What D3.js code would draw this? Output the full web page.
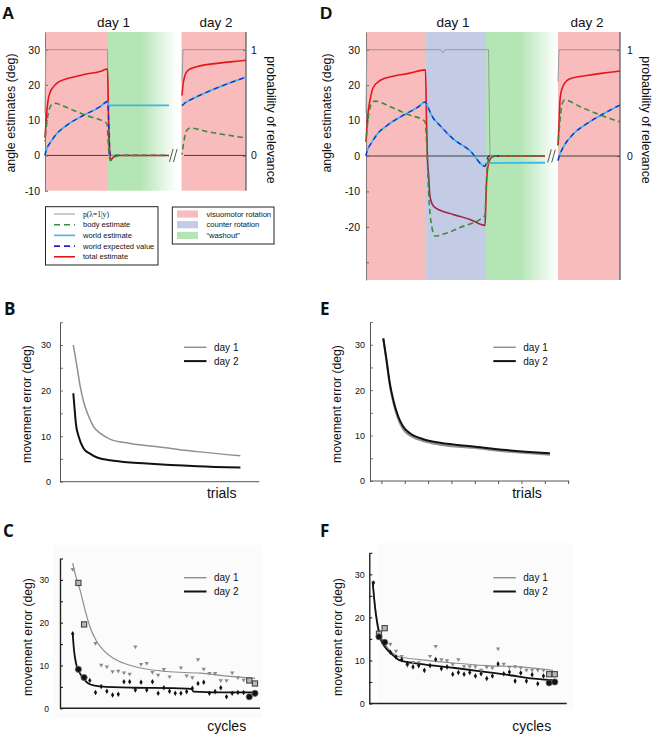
<!DOCTYPE html>
<html><head><meta charset="utf-8">
<script src="https://cdn.jsdelivr.net/npm/d3@7/dist/d3.min.js"></script>
<style>
html,body{margin:0;padding:0;background:#fff;}
svg{display:block;}
text{font-family:"Liberation Sans",Arial,Helvetica,sans-serif;fill:#111;}
</style></head><body>
<svg id="fig" width="655" height="738"></svg>
<script>
// ================= DATA =================
const dayLabels=["day 1","day 2"];
const phaseLabels=["visuomotor rotation","counter rotation","\u201cwashout\u201d"];
const seriesLabels=["p(\u03bb=1|y)","body estimate","world estimate","world expected value","total estimate"];
const angleTicksA=[-10,0,10,20,30];
const angleTicksD=[-30,-20,-10,0,10,20,30];
const probTicks=[0,1];
const errTicks=[0,5,10,15,20,25,30,35];
const trialTicksE=[0,10,20,30,40,50,60,70,80];
const bigCycles=[2,3,32,33];

// phases (trial units): [type, start, end]
const aPhases=[["rot",0,63],["wash",63,132],["rot",136.5,201]];
const dPhases=[["rot",0,60],["cnt",60,120],["wash",120,191],["rot",192,254]];

// Panel A, day 1 / day 2  [trial, value]
const aProb1=[[0,0.4],[0.8,1],[62.5,1],[63.5,0],[124,0]];
const aProb2=[[137,0.7],[138,1],[201,1]];
const aTotal1=[[0,5],[1,9.5],[2,13],[3,15.5],[5,17.8],[8,19.3],[13,20.7],[21,21.7],[30,22.3],[38,22.9],[55,23.8],[62.5,24.5],[63.5,12],[64.5,2],[66,-1.3],[68,-0.6],[71,0],[124,0]];
const aTotal2=[[137,17],[138,20],[139.5,22.2],[141,23.4],[145,24.5],[155,25.4],[172,26.1],[188,26.6],[201,27]];
const aBody1=[[0,4],[1.5,8.5],[3.5,12.3],[6,14.2],[9,14.8],[25,13.2],[41.5,11.3],[58,9.7],[62,9],[63,5],[64,0.5],[65.5,-1.5],[67,-1.1],[70,-0.4],[75,0],[124,0]];
const aBody2=[[137,0.3],[139,4.2],[141.5,7],[145,7.8],[161.5,6.8],[181.5,5.8],[200,5]];
const aWorld1=[[0,0],[1,1.3],[2.5,2.4],[5,3.5],[11.5,6.1],[21.5,8.5],[38,11.3],[55,13.8],[62.7,15.3],[63.3,14.2],[124,14.2]];
const aWorld2=[[137,14.1],[140,14.9],[145,15.7],[161.5,17.9],[181.5,20.2],[201,22.2]];
const aEV1=[[0,0],[1,1.3],[2.5,2.4],[5,3.5],[11.5,6.1],[21.5,8.5],[38,11.3],[55,13.8],[62.7,15.3],[64,7],[65,0.8],[66,0],[124,0]];
const aEV2=[[137,14.1],[140,14.9],[145,15.7],[161.5,17.9],[181.5,20.2],[201,22.2]];

// Panel D
const dProb1=[[0,0.4],[0.8,1],[75,1],[77,0.97],[79,1],[122.5,1],[124,0],[179,0]];
const dProb2=[[192,0.7],[193,1],[254,1]];
const dTotal1=[[0,4],[1,8.5],[2,12],[4,15.7],[7,19.2],[14,21.3],[27,22.5],[44,23.4],[59.5,24.3],[60.5,10],[61.5,-1],[62.5,-5],[64,-11.4],[67.5,-14.2],[74,-15.3],[87,-16.5],[104,-17.9],[119,-19.6],[120,-12],[120.7,-6.7],[122.3,-2.5],[125.7,-0.4],[131,0],[179,0]];
const dTotal2=[[192,3],[193,9],[194,15.7],[195.5,18.5],[197.3,19.9],[204,21.8],[220.7,22.7],[237,23.4],[254,24]];
const dBody1=[[0,4],[1.5,9],[3.5,13],[6,15],[9,15.5],[25,13.8],[42,11.7],[59,9.8],[60,7],[61,2],[62.5,-9.5],[65.7,-19.8],[69,-22.6],[77,-22.1],[94,-20.2],[119,-16.8],[120,-10],[121,-4],[122.5,-1],[125,0],[179,0]];
const dBody2=[[192,3],[194,10],[196,14.5],[198.5,15.8],[215,13.8],[235,11.5],[254,9.6]];
const dWorld1=[[0,0],[1,1.3],[2.5,2.4],[5,3.5],[11,6.1],[20.5,8.5],[36,11.3],[52,13.8],[59.5,15.3],[61.3,14.2],[65.7,11.4],[74,8.6],[87.3,4.8],[104,1.5],[119,-2.9],[121,-2],[179,-1.9]];
const dWorld2=[[192,-1.3],[194,0.5],[197.3,2.5],[207.3,6.2],[220.7,9.1],[237.3,11.9],[254,14.4]];
const dEV1=[[0,0],[1,1.3],[2.5,2.4],[5,3.5],[11,6.1],[20.5,8.5],[36,11.3],[52,13.8],[59.5,15.3],[61.3,14.2],[65.7,11.4],[74,8.6],[87.3,4.8],[104,1.5],[119,-2.9],[121,-1],[123,0],[133,0]];
const dEV2=[[192,-1.3],[194,0.5],[197.3,2.5],[207.3,6.2],[220.7,9.1],[237.3,11.9],[254,14.4]];

// Panel B / E  [trial, error]
const bDay1=[[0,30],[1.6,25.2],[3,20.8],[4.4,17.6],[6.6,14.3],[8.7,12.1],[11.6,10.6],[15.9,9.3],[24.4,8.4],[38.7,7.5],[53,6.6],[71.6,5.7]];
const bDay2=[[0,19.4],[0.6,15.7],[1.1,12.8],[2.3,9.9],[4.4,7.3],[7.3,6.1],[10.2,5.3],[17.3,4.6],[31.6,4.0],[53,3.4],[71.6,3.1]];
const eDay1=[[0.6,31.4],[2,26.2],[3.4,21.0],[4.9,17.2],[7,13.6],[9.1,11.4],[12,10.0],[17.7,8.8],[24.9,8.0],[39.1,7.3],[53.4,6.5],[72,5.8]];
const eDay2=[[0.6,31.4],[2,26.6],[3.4,21.5],[4.9,17.8],[7,14.2],[9.1,12.0],[12,10.5],[17.7,9.2],[24.9,8.4],[39.1,7.6],[53.4,6.8],[72,6.1]];

// Panel C / F  fitted curves [cycle, error]
const cCurve1=[[1,33.9],[1.41,31.5],[2.29,27.6],[3.16,23],[4.04,19],[5.21,15.6],[6.38,13.6],[8.13,11.7],[10.47,10.3],[13.4,9.3],[17.5,8.6],[23.3,8.2],[29.2,7.4],[33,7.0]];
const cCurve2=[[1,17.4],[1.23,13.6],[1.58,10.5],[2.1,8.6],[2.87,7.0],[3.75,5.8],[4.9,5.3],[5.8,5.1],[11.6,4.8],[18.7,4.7],[21.9,4.5],[22.2,3.9],[29.2,3.7],[33.5,3.7]];
const fCurve1=[[0.9,28.1],[1.3,23],[1.7,19.2],[2.18,16.2],[3.06,13.8],[4.24,11.9],[5.7,10.8],[9.2,10.2],[15.1,9.4],[21,8.8],[26.8,8.5],[32.7,7.7]];
const fCurve2=[[0.9,28.1],[1.3,22.3],[1.7,18.5],[2.18,15.4],[3.06,13.1],[4.24,11.5],[5.7,10],[9.2,9.2],[15.1,8.3],[21,7.3],[25.4,6.5],[27.8,6.0],[32.7,5.4]];
// data points
const cDay1Pts=[[1,32.5],[2,29.3],[3,19.6],[5,15.2],[6,10.1],[7,9.7],[8,8.6],[9,8.7],[10,8.3],[11,8.0],[12,14.4],[13,10.3],[14,10.5],[15,8.4],[16,7.8],[17,9.1],[18,7.4],[20,9.5],[21,7.6],[22,7.2],[23,11.4],[24,9.2],[25,8.2],[26,8.2],[27,6.5],[28,6.5],[29,8.3],[30,7.2],[31,6.6],[32,6.5],[33,5.8]];
const cDay2Pts=[[1,17.4],[2,9.1],[3,7.2],[4,6.5],[5,3.7],[6,5.1],[7,4.0],[8,3.1],[9,3.3],[10,6.2],[11,6.2],[12,4.3],[13,6.1],[14,4.3],[15,6.2],[16,3.5],[17,4.8],[18,4.0],[19,3.5],[20,3.5],[21,3.9],[22,4.7],[23,5.8],[24,6.1],[25,3.5],[26,3.9],[27,4.8],[28,2.7],[29,3.5],[30,3.7],[31,3.7],[32,2.7],[33,3.5]];
const fDay1Pts=[[1,28.1],[2,16.2],[3,17.5],[4,13.8],[5,12.2],[6,11.0],[7,8.8],[8,9.6],[9,9.5],[11,11.0],[12,13.3],[13,10.2],[14,10.0],[15,9.1],[16,10.2],[17,8.6],[18,8.6],[19,8.6],[20,7.8],[21,8.5],[22,8.3],[23,12.7],[24,9.2],[25,8.5],[26,8.6],[27,8.3],[28,7.8],[29,7.8],[30,7.8],[31,7.7],[32,6.8],[33,6.8]];
const fDay2Pts=[[1,28],[2,15.5],[3,14.2],[4,11.9],[5,10.8],[6,10.2],[7,9.2],[8,8.5],[9,8.8],[10,7.7],[11,8.8],[12,10.2],[13,8.1],[14,8.5],[15,6.8],[16,7.2],[17,6.8],[18,7.2],[19,6.4],[20,6.9],[21,5.8],[22,6.4],[23,9.2],[24,6.9],[25,7.3],[26,5.2],[27,7.1],[28,5.2],[29,6.7],[30,4.6],[31,6.4],[32,4.8],[33,5.0]];

// ================= STYLE =================
const C={pink:"#f8bcbc",lav:"#c4cbe4",mint:"#b4e5b5",red:"#e3161d",maroon:"#9a2747",green:"#3e8a3e",
  cyan:"#3bb8e6",blue:"#2323cc",grey:"#9a9a9a",axis:"#555"};
const svg=d3.select("#fig");
const defs=svg.append("defs");
const wg=defs.append("linearGradient").attr("id","wash").attr("x1",0).attr("x2",1).attr("y1",0).attr("y2",0);
[[0,C.mint],[0.48,C.mint],[1,"#ffffff"]].forEach(s=>wg.append("stop").attr("offset",s[0]).attr("stop-color",s[1]));

function txt(g,x,y,s,size,opts={}){
  const t=g.append("text").attr("x",x).attr("y",y).attr("font-size",size).text(s);
  if(opts.anchor)t.attr("text-anchor",opts.anchor);
  if(opts.weight)t.attr("font-weight",opts.weight);
  if(opts.family)t.style("font-family",opts.family);
  if(opts.rot!==undefined)t.attr("x",0).attr("y",0).attr("dy","0.35em").attr("transform",`translate(${x},${y}) rotate(${opts.rot})`);
  return t;
}
function path(g,d,stroke,w,dash,off){
  const p=g.append("path").attr("d",d).attr("fill","none").attr("stroke",stroke).attr("stroke-width",w)
   .attr("stroke-linejoin","round");
  if(dash)p.attr("stroke-dasharray",dash).attr("stroke-dashoffset",off||0);
  return p;
}

// ================= TOP PANELS (A, D) =================
function topPanel(o){
  const g=svg.append("g");
  const x=d3.scaleLinear().domain(o.xDom).range([o.L,o.R]);
  const y=d3.scaleLinear().domain(o.yDom).range([o.B,o.T]);
  const yp=d3.scaleLinear().domain([0,1]).range([y(0),y(30)]);
  o.phases.forEach(p=>{
    g.append("rect").attr("x",x(p[1])).attr("y",o.T).attr("width",x(p[2])-x(p[1])).attr("height",o.B-o.T)
      .attr("fill",p[0]==="rot"?C.pink:p[0]==="cnt"?C.lav:"url(#wash)");
  });
  // zero reference line with break
  g.append("line").attr("x1",x(o.xDom[0])).attr("x2",x(o.zeroEnd)).attr("y1",y(0)).attr("y2",y(0)).attr("stroke","#333").attr("stroke-width",0.9);
  g.append("line").attr("x1",x(o.zeroStart2)).attr("x2",x(o.xDom[1])).attr("y1",y(0)).attr("y2",y(0)).attr("stroke","#333").attr("stroke-width",0.9);
  const bx=x(o.breakAt),by=y(0);
  [-2,2].forEach(dx=>g.append("line").attr("x1",bx+dx-1.8).attr("y1",by+6.5).attr("x2",bx+dx+1.8).attr("y2",by-6.5).attr("stroke","#444").attr("stroke-width",0.9));
  // left axis
  const la=g.append("g").attr("transform",`translate(${o.L},0)`)
    .call(d3.axisLeft(y).tickValues(o.yTicks).tickSize(-3).tickSizeOuter(0).tickPadding(o.padL).tickFormat(d=>o.hide.includes(d)?"":String(d)));
  la.attr("font-size",10.5).attr("font-family",null).attr("color","#666");
  la.select(".domain").attr("stroke-width",0.8);
  // right axis
  const ra=g.append("g").attr("transform",`translate(${o.R},0)`)
    .call(d3.axisRight(yp).tickValues(probTicks).tickSize(-3).tickSizeOuter(0).tickPadding(o.padR).tickFormat(d=>String(d)));
  ra.attr("font-size",10.5).attr("font-family",null).attr("color","#444");
  ra.select(".domain").remove();
  g.append("line").attr("x1",o.R).attr("x2",o.R).attr("y1",o.T).attr("y2",o.B).attr("stroke","#555").attr("stroke-width",1.2);
  // series
  const ln=d3.line().x(d=>x(d[0])).y(d=>y(d[1])).curve(d3.curveMonotoneX);
  const lp=d3.line().x(d=>x(d[0])).y(d=>yp(d[1]));
  o.prob.forEach(s=>path(g,lp(s),C.grey,1));
  o.total.forEach(s=>path(g,ln(s),o.redStroke||C.red,1.6));
  o.world.forEach(s=>path(g,ln(s),C.cyan,1.8));
  o.ev.forEach(s=>path(g,ln(s),C.blue,1.3,"5,4",0));
  o.body.forEach(s=>path(g,ln(s),C.green,1.6,"5.5,3.5",4));
  // labels
  txt(g,o.day1X,27,dayLabels[0],13.5,{anchor:"middle"});
  txt(g,o.day2X,27,dayLabels[1],13.5,{anchor:"middle"});
  txt(g,o.ylabX,113,"angle estimates (deg)",12.4,{anchor:"middle",rot:-90});
  txt(g,o.rlabX,120,"probability of relevance",12.4,{anchor:"middle",rot:90});
  txt(g,o.letterX,19,o.letter,17,{weight:"bold"});
  return {x,y};
}

// red line gradient for D (darker inside counter-rotation block)
const xDtmp=d3.scaleLinear().domain([0,254]).range([366,620]);
const rg=defs.append("linearGradient").attr("id","redD").attr("gradientUnits","userSpaceOnUse")
  .attr("x1",366).attr("x2",620).attr("y1",0).attr("y2",0);
const f1=(xDtmp(dPhases[1][1]+0.5)-366)/254, f2=(xDtmp(dPhases[1][2])-366)/254;
[[0,C.red],[f1,C.red],[f1,C.maroon],[f2,C.maroon],[f2,C.red],[1,C.red]].forEach(s=>rg.append("stop").attr("offset",s[0]).attr("stop-color",s[1]));

topPanel({L:45,R:246,T:32,B:190.7,xDom:[0,201],yDom:[-10,35],phases:aPhases,yTicks:angleTicksA,hide:[],
  padL:5,padR:5,zeroEnd:123.3,zeroStart2:139,breakAt:128.3,
  prob:[aProb1,aProb2],total:[aTotal1,aTotal2],world:[aWorld1,aWorld2],ev:[aEV1,aEV2],body:[aBody1,aBody2],
  day1X:113.5,day2X:216,ylabX:11,rlabX:271,letter:"A",letterX:2});
topPanel({L:366,R:620,T:32,B:280,xDom:[0,254],yDom:[-35,35],phases:dPhases,yTicks:angleTicksD,hide:[-30],
  padL:6,padR:7,zeroEnd:179,zeroStart2:192,breakAt:185.5,redStroke:"url(#redD)",
  prob:[dProb1,dProb2],total:[dTotal1,dTotal2],world:[dWorld1,dWorld2],ev:[dEV1,dEV2],body:[dBody1,dBody2],
  day1X:453,day2X:587,ylabX:327,rlabX:646,letter:"D",letterX:320});

// ---- legend (panel A) ----
(function(){
  const g=svg.append("g");
  g.append("rect").attr("x",45.5).attr("y",206.7).attr("width",112.5).attr("height",58.3).attr("fill","#fff").attr("stroke","#222").attr("stroke-width",1);
  const st=[[C.grey,1,null],[C.green,1.6,"6,4"],[C.cyan,1.6,null],[C.blue,1.6,"6,4"],[C.red,1.6,null]];
  seriesLabels.forEach((s,i)=>{
    const yy=214+i*10.7;
    const l=g.append("line").attr("x1",54).attr("x2",75).attr("y1",yy).attr("y2",yy).attr("stroke",st[i][0]).attr("stroke-width",st[i][1]);
    if(st[i][2])l.attr("stroke-dasharray",st[i][2]);
    const t=txt(g,83,yy+2.6,s,7.6);
    if(i===0)t.style("font-family","'Liberation Serif','DejaVu Serif',serif");
  });
  g.append("rect").attr("x",172.3).attr("y",207).attr("width",101.7).attr("height",37).attr("fill","#fff").attr("stroke","#222").attr("stroke-width",1);
  const fills=[C.pink,C.lav,C.mint];
  phaseLabels.forEach((s,i)=>{
    const yy=214+i*10.7;
    g.append("rect").attr("x",177).attr("y",yy-3.6).attr("width",21).attr("height",7.2).attr("fill",fills[i]);
    txt(g,206.5,yy+2.6,s,7.6);
  });
})();

// ================= ERROR PANELS (B, E, C, F) =================
function errPanel(o){
  const g=svg.append("g");
  const x=d3.scaleLinear().domain(o.xDom).range([o.L,o.R]);
  const y=d3.scaleLinear().domain([0,35]).range([o.B,o.T]);
  if(o.bg)g.append("rect").attr("x",o.bg[0]).attr("y",o.bg[1]).attr("width",o.bg[2]-o.bg[0]).attr("height",o.bg[3]-o.bg[1]).attr("fill","#fbfbfb");
  const ya=g.append("g").attr("transform",`translate(${o.L},0)`)
    .call(d3.axisLeft(y).tickValues(errTicks).tickSize(-3).tickSizeOuter(0).tickPadding(o.pad).tickFormat(d=>d%10===0?String(d):""));
  ya.attr("font-size",o.tickFont).attr("font-family",null).attr("color",o.axisColor);
  ya.select(".domain").attr("stroke-width",o.axisW);
  ya.selectAll(".tick line").attr("stroke-width",o.axisW*0.8);
  g.append("line").attr("x1",o.L).attr("x2",o.R).attr("y1",o.B).attr("y2",o.B).attr("stroke",o.axisColor).attr("stroke-width",o.axisW);
  if(o.xTicks){
    o.xTicks.forEach(t=>g.append("line").attr("x1",x(t)).attr("x2",x(t)).attr("y1",o.B).attr("y2",o.B+3).attr("stroke",o.axisColor).attr("stroke-width",1));
  }
  const ln=d3.line().x(d=>x(d[0])).y(d=>y(d[1])).curve(d3.curveMonotoneX);
  path(g,ln(o.d1),"#8f8f8f",o.w1);
  path(g,ln(o.d2),"#111",o.w2);
  if(o.p1){
    const tri=d3.symbol().type(d3.symbolTriangle).size(8);
    const dia=d3.symbol().type(d3.symbolDiamond).size(9);
    o.p1.filter(p=>!bigCycles.includes(p[0])).forEach(p=>g.append("path").attr("d",tri()).attr("fill","#8a8a8a")
      .attr("transform",`translate(${x(p[0])},${y(p[1])}) rotate(180)`));
    o.p2.filter(p=>!bigCycles.includes(p[0])).forEach(p=>g.append("path").attr("d",dia()).attr("fill","#111")
      .attr("transform",`translate(${x(p[0])},${y(p[1])})`));
    o.p1.filter(p=>bigCycles.includes(p[0])).forEach(p=>g.append("rect").attr("x",x(p[0])-2.6).attr("y",y(p[1])-2.6).attr("width",5.2).attr("height",5.2)
      .attr("fill","#b8b8b8").attr("stroke","#444").attr("stroke-width",1.1));
    o.p2.filter(p=>bigCycles.includes(p[0])).forEach(p=>g.append("circle").attr("cx",x(p[0])).attr("cy",y(p[1])).attr("r",3.1)
      .attr("fill","#111").attr("stroke","#666").attr("stroke-width",0.8));
  }
  // legend
  g.append("line").attr("x1",o.legX).attr("x2",o.legX+22.5).attr("y1",o.legY).attr("y2",o.legY).attr("stroke","#8f8f8f").attr("stroke-width",1.4);
  g.append("line").attr("x1",o.legX).attr("x2",o.legX+22.5).attr("y1",o.legY+13.8).attr("y2",o.legY+13.8).attr("stroke","#111").attr("stroke-width",2);
  txt(g,o.legX+30,o.legY+3.7,dayLabels[0],10);
  txt(g,o.legX+30,o.legY+17.5,dayLabels[1],10);
  txt(g,o.xlabX,o.xlabY,o.xlab,14,{anchor:"middle"});
  txt(g,o.ylabX,o.ylabY,"movement error (deg)",12.2,{anchor:"middle",rot:-90});
  txt(g,o.letterX,o.letterY,o.letter,17,{weight:"bold",family:"'Open Sans',sans-serif"});
}

errPanel({L:60,R:259.3,T:322.2,B:481.7,xDom:[-5.7,79.7],pad:9,tickFont:9,axisColor:"#555",axisW:1,
  d1:bDay1,d2:bDay2,w1:1.5,w2:2,legX:184,legY:347.3,xlab:"trials",xlabX:221.7,xlabY:498,ylabX:27,ylabY:404,letter:"B",letterX:4,letterY:315});
errPanel({L:370,R:569.3,T:322,B:481,xDom:[-5.1,80.3],pad:5,tickFont:9,axisColor:"#555",axisW:1,xTicks:trialTicksE,
  d1:eDay1,d2:eDay2,w1:2,w2:2,legX:493.3,legY:347.3,xlab:"trials",xlabX:527,xlabY:498,ylabX:337,ylabY:404,letter:"E",letterX:320,letterY:315});
errPanel({L:60,R:260,T:558.5,B:708.3,xDom:[-1.23,33.88],pad:11,tickFont:8.5,axisColor:"#222",axisW:1.4,bg:[53,545,262,718],
  d1:cCurve1,d2:cCurve2,w1:1.2,w2:1.8,p1:cDay1Pts,p2:cDay2Pts,legX:184,legY:577.7,xlab:"cycles",xlabX:226.7,xlabY:731,ylabX:27.5,ylabY:637,letter:"C",letterX:3,letterY:537});
errPanel({L:369.3,R:566.7,T:552.8,B:703.5,xDom:[0.29,35.1],pad:4.5,tickFont:9,axisColor:"#222",axisW:1.4,bg:[377,543,573,710],
  d1:fCurve1,d2:fCurve2,w1:1.2,w2:1.8,p1:fDay1Pts,p2:fDay2Pts,legX:493.3,legY:577.7,xlab:"cycles",xlabX:531.7,xlabY:731,ylabX:338,ylabY:637,letter:"F",letterX:320,letterY:537});
</script></body></html>
